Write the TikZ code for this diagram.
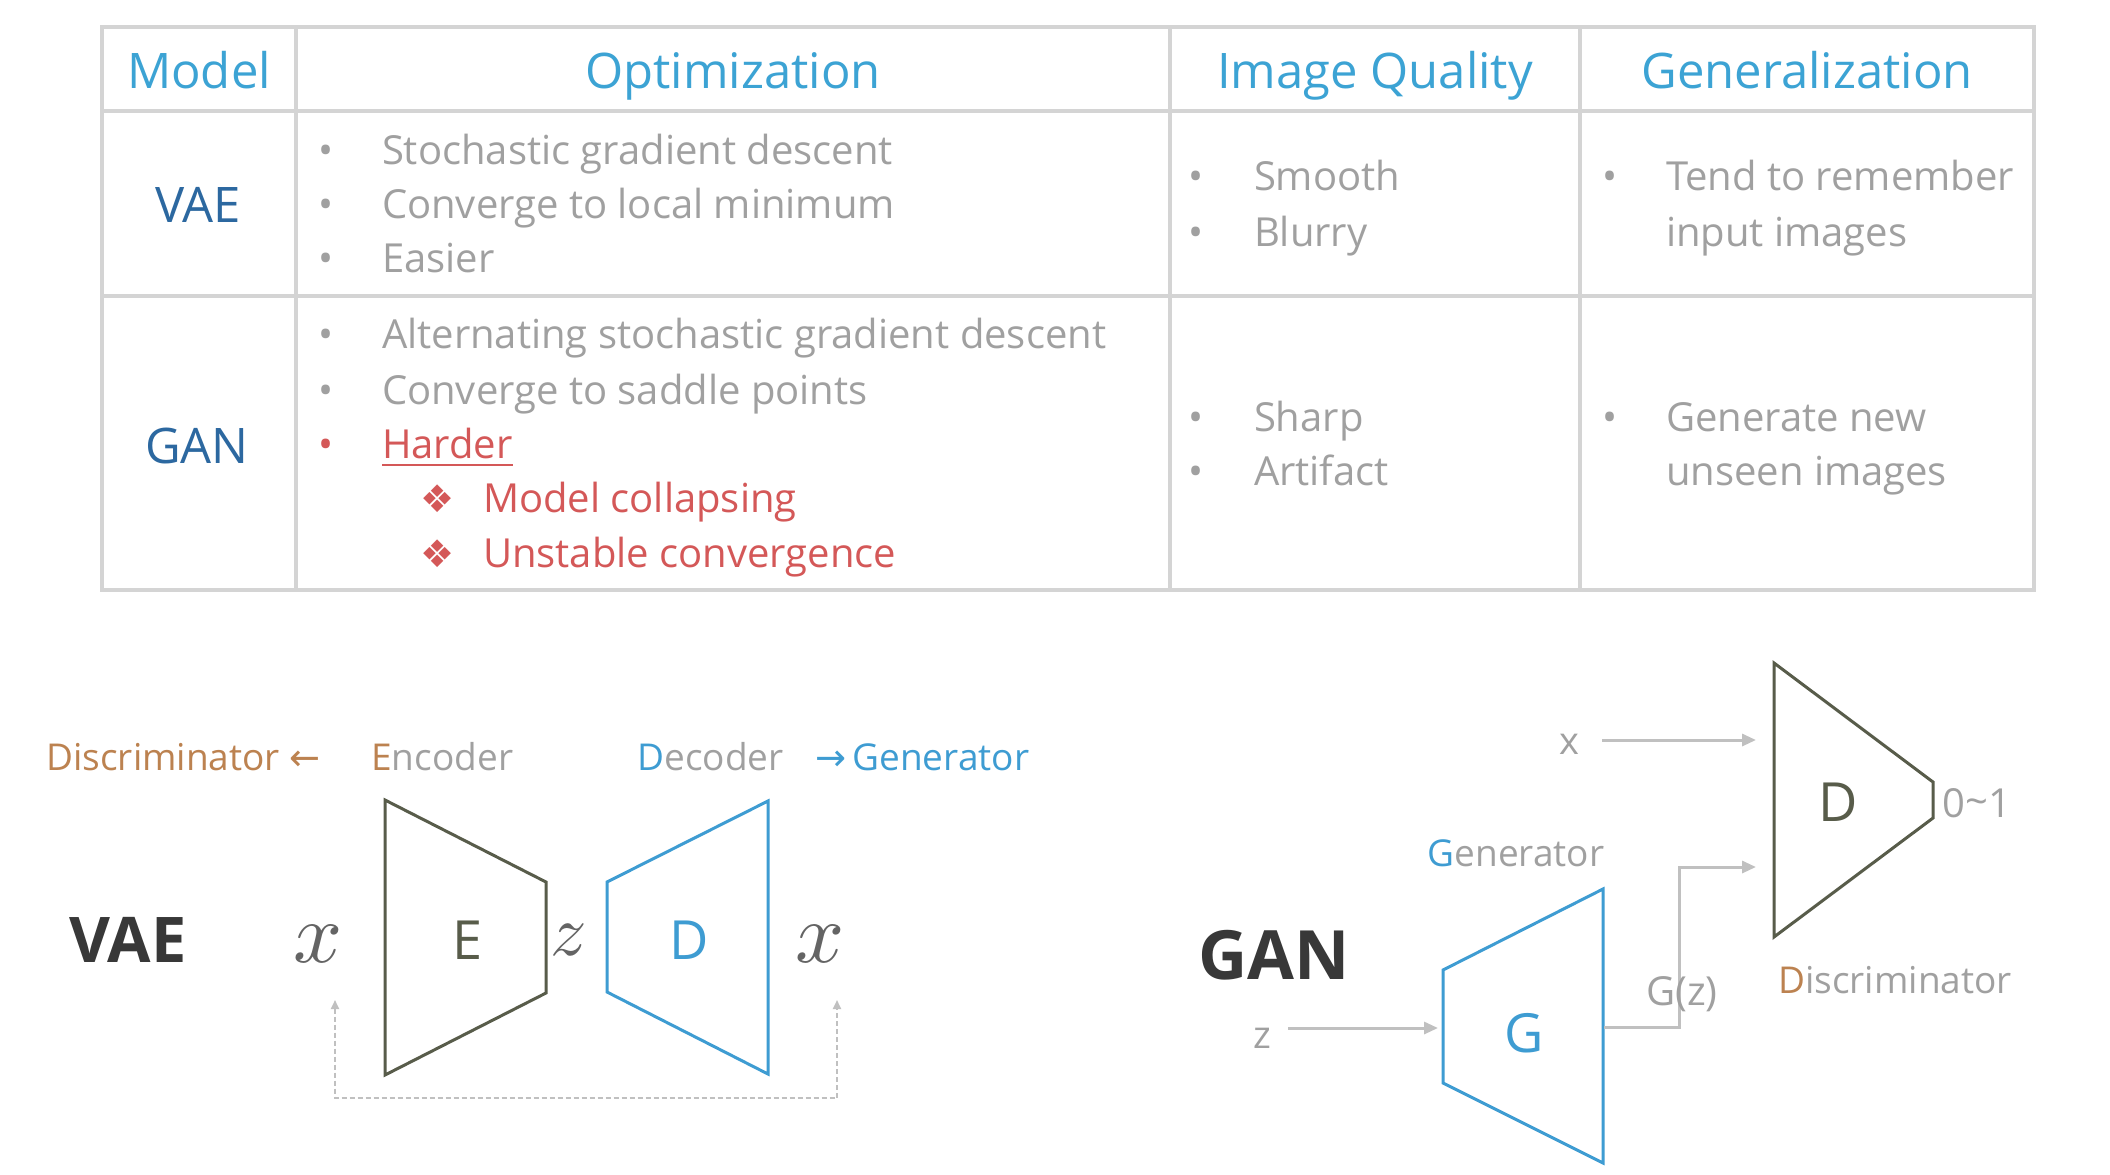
\documentclass[tikz,border=0pt]{standalone}
\usepackage{fontspec}
\setmainfont{Open Sans}
\newfontfamily\dejavu{DejaVu Sans}
\usetikzlibrary{arrows.meta}
\definecolor{hblue}{RGB}{60,163,212}
\definecolor{dblue}{RGB}{44,104,160}
\definecolor{tgray}{RGB}{160,160,160}
\definecolor{tred}{RGB}{212,88,88}
\definecolor{tbrown}{RGB}{188,130,80}
\definecolor{olive}{RGB}{88,92,74}
\definecolor{sblue}{RGB}{62,156,210}
\definecolor{agray}{RGB}{192,192,192}
\definecolor{lgray}{RGB}{212,212,212}
\definecolor{mgray}{RGB}{100,100,100}
\definecolor{bgray}{RGB}{56,56,56}
\tikzset{
  txt/.style={inner sep=0pt, outer sep=0pt, anchor=base west},
  head/.style={inner sep=0pt, anchor=base, text=hblue, font=\fontsize{24.5}{29}\selectfont},
  rowlab/.style={inner sep=0pt, anchor=base, text=dblue, font=\fontsize{24.5}{29}\selectfont},
  body/.style={txt, text=tgray, font=\fontsize{20}{24}\selectfont},
  redbody/.style={txt, text=tred, font=\fontsize{20}{24}\selectfont},
  bul/.style={inner sep=0pt, anchor=base, text=tgray, font=\fontsize{20}{24}\selectfont},
  redbul/.style={inner sep=0pt, anchor=base, text=tred, font=\fontsize{20}{24}\selectfont},
  subbul/.style={inner sep=0pt, anchor=base, text=tred, font=\dejavu\fontsize{19}{22}\selectfont},
  grid/.style={draw=lgray, line width=1.6pt},
  lab/.style={inner sep=0pt, anchor=base west, font=\fontsize{18.5}{22}\selectfont},
  big/.style={inner sep=0pt, anchor=center, text=bgray, font=\bfseries},
  letter/.style={inner sep=0pt, anchor=center, font=\fontsize{27}{32}\selectfont},
  mathlab/.style={inner sep=0pt, anchor=center, text=mgray},
  small/.style={inner sep=0pt, anchor=center, text=tgray, font=\fontsize{19}{23}\selectfont},
  encshape/.style={draw=olive, line width=1.5pt, line join=miter},
  decshape/.style={draw=sblue, line width=1.5pt, line join=miter},
  flow/.style={draw=agray, line width=1.5pt, -{Triangle[length=7pt,width=6pt]}},
  fb/.style={draw=agray, line width=1pt, dash pattern=on 2.5pt off 1.5pt, {Triangle[length=4.5pt,width=4pt]}-{Triangle[length=4.5pt,width=4pt]}}
}
\begin{document}
\begin{tikzpicture}[x=0.5pt,y=-0.5pt]
\useasboundingbox (0,0) rectangle (2110,1174);
\fill[white] (0,0) rectangle (2110,1174);
% ---------------- table ----------------
\draw[grid] (102,27) rectangle (2034,590);
\draw[grid] (102,111) -- (2034,111);
\draw[grid] (102,296) -- (2034,296);
\draw[grid] (296,27) -- (296,590);
\draw[grid] (1170,27) -- (1170,590);
\draw[grid] (1580,27) -- (1580,590);
\node[head] (hmodel) at (199,88) {Model};
\node[head] (hopt) at (733,88) {Optimization};
\node[head] (hiq) at (1375,88) {Image Quality};
\node[head] (hgen) at (1807,88) {Generalization};
\node[rowlab] (rvae) at (198,222) {VAE};
\node[rowlab] (rgan) at (197,463) {GAN};
% VAE optimization
\node[bul] (b1) at (326,164) {•};
\node[body] (o1) at (382,164) {Stochastic gradient descent};
\node[bul] (b2) at (326,218) {•};
\node[body] (o2) at (382,218) {Converge to local minimum};
\node[bul] (b3) at (326,272) {•};
\node[body] (o3) at (382,272) {Easier};
% GAN optimization
\node[bul] (b4) at (326,348) {•};
\node[body] (o4) at (382,348) {Alternating stochastic gradient descent};
\node[bul] (b5) at (326,404) {•};
\node[body] (o5) at (382,404) {Converge to saddle points};
\node[redbul] (b6) at (326,458) {•};
\node[redbody] (harder) at (382,458) {Harder};
\draw[tred, line width=1pt] ([yshift=-3.5pt]harder.base west) -- ([yshift=-3.5pt]harder.base east);
\node[subbul] (s1) at (438,512) {❖};
\node[redbody] (o7) at (483,512) {Model collapsing};
\node[subbul] (s2) at (438,567) {❖};
\node[redbody] (o8) at (483,567) {Unstable convergence};
% Image quality
\node[bul] (b7) at (1196,190) {•};
\node[body] (q1) at (1254,190) {Smooth};
\node[bul] (b8) at (1196,246) {•};
\node[body] (q2) at (1254,246) {Blurry};
\node[bul] (b9) at (1196,431) {•};
\node[body] (q3) at (1254,431) {Sharp};
\node[bul] (b10) at (1196,485) {•};
\node[body] (q4) at (1254,485) {Artifact};
% Generalization
\node[bul] (b11) at (1610,190) {•};
\node[body] (g1) at (1666,190) {Tend to remember};
\node[body] (g2) at (1666,246) {input images};
\node[bul] (b12) at (1610,431) {•};
\node[body] (g3) at (1666,431) {Generate new};
\node[body] (g4) at (1666,485) {unseen images};
% ---------------- VAE diagram ----------------
\node[lab, text=tbrown] (ldisc) at (46,770) {Discriminator {\dejavu ←}};
\node[lab, text=tgray] (lenc) at (371,770) {{\color{tbrown}E}ncoder};
\node[lab, text=tgray] (ldec) at (637,770) {{\color{sblue}D}ecoder};
\node[lab, text=sblue] (lgen) at (815,770) {{\dejavu →}\,Generator};
\node[big, font=\bfseries\fontsize{31.5}{38}\selectfont] (vae) at (128,940) {VAE};
\node[mathlab] (xin) at (318,944) {\scalebox{4.3}{$x$}};
\draw[encshape] (385,800) -- (546,882) -- (546,993) -- (385,1075) -- cycle;
\node[letter, text=olive] (E) at (468,940) {E};
\node[mathlab] (zv) at (569,940) {\scalebox{3.6}{$z$}};
\draw[decshape] (607,882) -- (768,801) -- (768,1074) -- (607,992) -- cycle;
\node[letter, text=sblue] (Dv) at (689,940) {D};
\node[mathlab] (xout) at (820,944) {\scalebox{4.3}{$x$}};
\coordinate (fbl) at (335,1000);
\coordinate (fbr) at (837,1000);
\draw[fb] (fbl) -- (335,1098) -- (837,1098) -- (fbr);
% ---------------- GAN diagram ----------------
\node[big, font=\bfseries\fontsize{34}{40}\selectfont] (gan) at (1274,955) {GAN};
\node[small] (zg) at (1262,1038) {z};
\draw[decshape] (1443,970) -- (1603,889) -- (1603,1163) -- (1443,1083) -- cycle;
\node[letter, text=sblue] (G) at (1524,1033) {G};
\node[lab, anchor=center, text=tgray] (lgen2) at (1516,853) {{\color{sblue}G}enerator};
\coordinate (zs) at (1288,1028);
\coordinate (gin) at (1438,1028);
\draw[flow] (zs) -- (gin);
\draw[encshape] (1774,663) -- (1933,782) -- (1933,818) -- (1774,937) -- cycle;
\node[letter, text=olive] (Dg) at (1838,802) {D};
\node[small, anchor=west, font=\fontsize{20}{24}\selectfont] (out) at (1942,803) {0\raisebox{0.1ex}{\~{}}1};
\node[lab, anchor=center, text=tgray] (ldisc2) at (1895,980) {{\color{tbrown}D}iscriminator};
\node[small] (xg) at (1569,744) {x};
\coordinate (xs) at (1602,740);
\coordinate (din1) at (1756,740);
\coordinate (din2) at (1756,867);
\coordinate (gout) at (1604,1027);
\draw[flow] (xs) -- (din1);
\draw[flow] (gout) -- (1679,1027) -- (1679,867) -- (din2);
\node[small, font=\fontsize{20}{24}\selectfont] (gz) at (1682,994) {G(z)};
\end{tikzpicture}
\end{document}
